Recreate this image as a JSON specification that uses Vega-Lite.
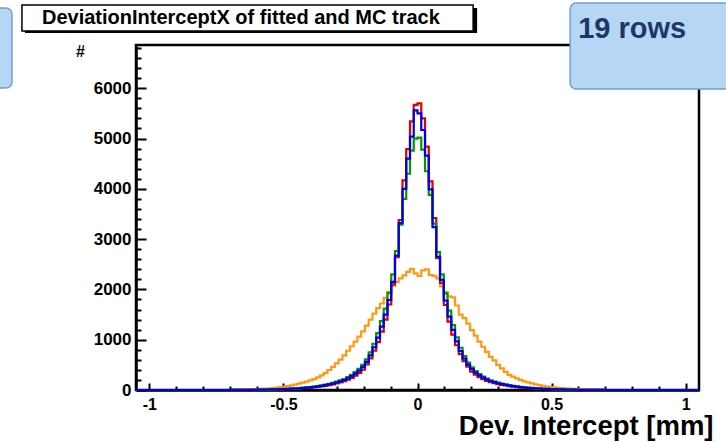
{
  "$schema": "https://vega.github.io/schema/vega-lite/v6.json",
  "width": 563,
  "height": 345,
  "autosize": {"type": "none"},
  "padding": {"left": 136, "top": 45, "right": 27, "bottom": 52},
  "background": "white",
  "config": {
    "view": {"stroke": "black", "strokeWidth": 2.5},
    "font": "Liberation Sans",
    "axisX": {
      "labelFont": "Liberation Sans", "labelFontSize": 16, "labelFontWeight": "bold", "labelColor": "black",
      "labelPadding": 13, "labelFlush": false, "labelOverlap": false, "labelBound": false,
      "tickColor": "black", "tickWidth": 2, "domainColor": "black", "domainWidth": 2.5, "grid": false,
      "titleFont": "Liberation Sans", "titleFontSize": 27.5, "titleFontWeight": "bold", "titleColor": "black",
      "titleX": 577, "titleY": 44, "titleAlign": "right", "titleBaseline": "alphabetic"
    },
    "axisY": {
      "labelFont": "Liberation Sans", "labelFontSize": 17, "labelFontWeight": "bold", "labelColor": "black",
      "labelPadding": 15, "labelFlush": false, "labelOverlap": false, "labelBound": false,
      "tickColor": "black", "tickWidth": 2, "domainColor": "black", "domainWidth": 2.5, "grid": false,
      "titleFont": "Liberation Sans", "titleFontSize": 16, "titleFontWeight": "bold", "titleColor": "black",
      "titleAngle": 0, "titleX": -56, "titleY": 6, "titleAlign": "center", "titleBaseline": "middle"
    }
  },
  "data": {
    "values": [
      {"x": -1.05, "b": 0, "r": 0, "g": 0, "o": 0},
      {"x": -0.7, "b": 1, "r": 1, "g": 1, "o": 5},
      {"x": -0.686, "b": 1, "r": 1, "g": 2, "o": 6},
      {"x": -0.672, "b": 2, "r": 1, "g": 2, "o": 8},
      {"x": -0.658, "b": 2, "r": 2, "g": 3, "o": 9},
      {"x": -0.644, "b": 3, "r": 2, "g": 4, "o": 11},
      {"x": -0.63, "b": 4, "r": 3, "g": 4, "o": 13},
      {"x": -0.616, "b": 5, "r": 4, "g": 5, "o": 16},
      {"x": -0.602, "b": 6, "r": 5, "g": 7, "o": 19},
      {"x": -0.588, "b": 7, "r": 6, "g": 8, "o": 23},
      {"x": -0.574, "b": 8, "r": 7, "g": 9, "o": 28},
      {"x": -0.56, "b": 10, "r": 8, "g": 11, "o": 34},
      {"x": -0.546, "b": 12, "r": 10, "g": 13, "o": 40},
      {"x": -0.532, "b": 14, "r": 12, "g": 15, "o": 48},
      {"x": -0.518, "b": 16, "r": 14, "g": 18, "o": 58},
      {"x": -0.504, "b": 19, "r": 16, "g": 21, "o": 68},
      {"x": -0.49, "b": 22, "r": 19, "g": 24, "o": 80},
      {"x": -0.476, "b": 26, "r": 22, "g": 29, "o": 93},
      {"x": -0.462, "b": 30, "r": 26, "g": 33, "o": 108},
      {"x": -0.448, "b": 35, "r": 30, "g": 39, "o": 125},
      {"x": -0.434, "b": 41, "r": 35, "g": 45, "o": 145},
      {"x": -0.42, "b": 47, "r": 40, "g": 52, "o": 165},
      {"x": -0.406, "b": 54, "r": 46, "g": 60, "o": 190},
      {"x": -0.392, "b": 62, "r": 53, "g": 69, "o": 218},
      {"x": -0.378, "b": 72, "r": 62, "g": 80, "o": 252},
      {"x": -0.364, "b": 83, "r": 72, "g": 92, "o": 292},
      {"x": -0.35, "b": 96, "r": 84, "g": 106, "o": 340},
      {"x": -0.336, "b": 111, "r": 97, "g": 122, "o": 398},
      {"x": -0.322, "b": 128, "r": 112, "g": 141, "o": 460},
      {"x": -0.308, "b": 149, "r": 130, "g": 165, "o": 530},
      {"x": -0.294, "b": 172, "r": 150, "g": 190, "o": 605},
      {"x": -0.28, "b": 198, "r": 175, "g": 218, "o": 690},
      {"x": -0.266, "b": 232, "r": 205, "g": 255, "o": 780},
      {"x": -0.252, "b": 275, "r": 240, "g": 300, "o": 870},
      {"x": -0.238, "b": 325, "r": 285, "g": 355, "o": 960},
      {"x": -0.224, "b": 385, "r": 340, "g": 420, "o": 1060},
      {"x": -0.21, "b": 460, "r": 405, "g": 500, "o": 1165},
      {"x": -0.196, "b": 560, "r": 510, "g": 610, "o": 1280},
      {"x": -0.182, "b": 690, "r": 630, "g": 750, "o": 1400},
      {"x": -0.168, "b": 850, "r": 780, "g": 920, "o": 1520},
      {"x": -0.154, "b": 1040, "r": 950, "g": 1130, "o": 1630},
      {"x": -0.14, "b": 1260, "r": 1160, "g": 1370, "o": 1720},
      {"x": -0.126, "b": 1500, "r": 1400, "g": 1620, "o": 1830},
      {"x": -0.112, "b": 1790, "r": 1700, "g": 1930, "o": 1950},
      {"x": -0.098, "b": 2150, "r": 2100, "g": 2300, "o": 2070},
      {"x": -0.084, "b": 2670, "r": 2640, "g": 2760, "o": 2150},
      {"x": -0.07, "b": 3320, "r": 3380, "g": 3290, "o": 2220},
      {"x": -0.056, "b": 4000, "r": 4170, "g": 3800, "o": 2280},
      {"x": -0.042, "b": 4600, "r": 4790, "g": 4300, "o": 2350},
      {"x": -0.028, "b": 5040, "r": 5340, "g": 4760, "o": 2410},
      {"x": -0.014, "b": 5560, "r": 5670, "g": 5000, "o": 2320},
      {"x": 0, "b": 5500, "r": 5700, "g": 5020, "o": 2270},
      {"x": 0.014, "b": 5170, "r": 5400, "g": 4780, "o": 2380},
      {"x": 0.028, "b": 4660, "r": 4840, "g": 4350, "o": 2400},
      {"x": 0.042, "b": 3990, "r": 4150, "g": 3880, "o": 2290},
      {"x": 0.056, "b": 3240, "r": 3420, "g": 3310, "o": 2270},
      {"x": 0.07, "b": 2650, "r": 2620, "g": 2740, "o": 2220},
      {"x": 0.084, "b": 2190, "r": 2130, "g": 2300, "o": 2060},
      {"x": 0.098, "b": 1780, "r": 1690, "g": 1920, "o": 1950},
      {"x": 0.112, "b": 1460, "r": 1360, "g": 1580, "o": 1860},
      {"x": 0.126, "b": 1195, "r": 1100, "g": 1290, "o": 1840},
      {"x": 0.14, "b": 966, "r": 890, "g": 1045, "o": 1680},
      {"x": 0.154, "b": 775, "r": 715, "g": 840, "o": 1500},
      {"x": 0.168, "b": 624, "r": 575, "g": 675, "o": 1430},
      {"x": 0.182, "b": 505, "r": 465, "g": 545, "o": 1320},
      {"x": 0.196, "b": 415, "r": 365, "g": 450, "o": 1190},
      {"x": 0.21, "b": 345, "r": 305, "g": 375, "o": 1080},
      {"x": 0.224, "b": 290, "r": 255, "g": 315, "o": 960},
      {"x": 0.238, "b": 245, "r": 215, "g": 265, "o": 860},
      {"x": 0.252, "b": 208, "r": 183, "g": 225, "o": 760},
      {"x": 0.266, "b": 178, "r": 157, "g": 193, "o": 660},
      {"x": 0.28, "b": 155, "r": 136, "g": 168, "o": 590},
      {"x": 0.294, "b": 134, "r": 118, "g": 147, "o": 500},
      {"x": 0.308, "b": 116, "r": 102, "g": 128, "o": 430},
      {"x": 0.322, "b": 101, "r": 89, "g": 111, "o": 360},
      {"x": 0.336, "b": 87, "r": 76, "g": 96, "o": 300},
      {"x": 0.35, "b": 76, "r": 66, "g": 84, "o": 265},
      {"x": 0.364, "b": 66, "r": 57, "g": 73, "o": 230},
      {"x": 0.378, "b": 57, "r": 49, "g": 63, "o": 200},
      {"x": 0.392, "b": 50, "r": 43, "g": 55, "o": 170},
      {"x": 0.406, "b": 44, "r": 37, "g": 48, "o": 150},
      {"x": 0.42, "b": 38, "r": 32, "g": 42, "o": 130},
      {"x": 0.434, "b": 33, "r": 28, "g": 36, "o": 110},
      {"x": 0.448, "b": 28, "r": 24, "g": 31, "o": 95},
      {"x": 0.462, "b": 24, "r": 20, "g": 26, "o": 82},
      {"x": 0.476, "b": 21, "r": 18, "g": 23, "o": 70},
      {"x": 0.49, "b": 18, "r": 15, "g": 20, "o": 60},
      {"x": 0.504, "b": 16, "r": 13, "g": 18, "o": 52},
      {"x": 0.518, "b": 13, "r": 11, "g": 14, "o": 45},
      {"x": 0.532, "b": 11, "r": 9, "g": 12, "o": 38},
      {"x": 0.546, "b": 9, "r": 8, "g": 10, "o": 32},
      {"x": 0.56, "b": 8, "r": 7, "g": 9, "o": 27},
      {"x": 0.574, "b": 7, "r": 6, "g": 8, "o": 22},
      {"x": 0.588, "b": 5, "r": 4, "g": 6, "o": 18},
      {"x": 0.602, "b": 4, "r": 3, "g": 5, "o": 15},
      {"x": 0.616, "b": 4, "r": 3, "g": 4, "o": 12},
      {"x": 0.63, "b": 3, "r": 2, "g": 3, "o": 10},
      {"x": 0.644, "b": 2, "r": 2, "g": 2, "o": 8},
      {"x": 0.658, "b": 2, "r": 1, "g": 2, "o": 6},
      {"x": 0.672, "b": 1, "r": 1, "g": 1, "o": 5},
      {"x": 0.686, "b": 1, "r": 1, "g": 1, "o": 4},
      {"x": 0.7, "b": 0, "r": 0, "g": 0, "o": 0},
      {"x": 1.05, "b": 0, "r": 0, "g": 0, "o": 0}
    ]
  },
  "layer": [
    {
      "transform": [{"fold": ["o", "r", "g", "b"], "as": ["s", "n"]}],
      "mark": {"type": "line", "interpolate": "step-after", "strokeWidth": 2.2},
      "encoding": {
        "x": {
          "field": "x", "type": "quantitative",
          "scale": {"domain": [-1.05, 1.05], "nice": false, "zero": false},
          "axis": {
            "title": "Dev. Intercept [mm]",
            "values": [-1, -0.9, -0.8, -0.7, -0.6, -0.5, -0.4, -0.3, -0.2, -0.1, 0, 0.1, 0.2, 0.3, 0.4, 0.5, 0.6, 0.7, 0.8, 0.9, 1],
            "labelExpr": "abs(datum.value * 2 - round(datum.value * 2)) < 0.001 ? toString(datum.value) : ''",
            "tickSize": {"condition": {"test": "abs(datum.value * 2 - round(datum.value * 2)) < 0.001", "value": -7}, "value": -4}
          }
        },
        "y": {
          "field": "n", "type": "quantitative",
          "scale": {"domain": [0, 6860], "nice": false},
          "axis": {
            "title": "#",
            "values": [0, 200, 400, 600, 800, 1000, 1200, 1400, 1600, 1800, 2000, 2200, 2400, 2600, 2800, 3000, 3200, 3400, 3600, 3800, 4000, 4200, 4400, 4600, 4800, 5000, 5200, 5400, 5600, 5800, 6000, 6200, 6400, 6600, 6800],
            "labelExpr": "datum.value % 1000 === 0 ? toString(datum.value) : ''",
            "tickSize": {"condition": {"test": "datum.value % 1000 === 0", "value": -10}, "value": -5}
          }
        },
        "color": {
          "field": "s", "type": "nominal",
          "scale": {"domain": ["o", "r", "g", "b"], "range": ["#ff9a10", "#dd0000", "#009a00", "#0000e8"]},
          "legend": null
        }
      }
    },
    {
      "transform": [{"filter": "datum.x === 1.05"}],
      "mark": {"type": "rect", "color": "black", "clip": false},
      "encoding": {
        "x": {"datum": -1.4642, "type": "quantitative", "axis": {"title": "Dev. Intercept [mm]", "values": [-1, -0.9, -0.8, -0.7, -0.6, -0.5, -0.4, -0.3, -0.2, -0.1, 0, 0.1, 0.2, 0.3, 0.4, 0.5, 0.6, 0.7, 0.8, 0.9, 1], "labelExpr": "abs(datum.value * 2 - round(datum.value * 2)) < 0.001 ? toString(datum.value) : ''", "tickSize": {"condition": {"test": "abs(datum.value * 2 - round(datum.value * 2)) < 0.001", "value": -7}, "value": -4}}},
        "x2": {"datum": 0.2224},
        "y": {"datum": 7596, "type": "quantitative", "axis": {"title": "#", "values": [0, 200, 400, 600, 800, 1000, 1200, 1400, 1600, 1800, 2000, 2200, 2400, 2600, 2800, 3000, 3200, 3400, 3600, 3800, 4000, 4200, 4400, 4600, 4800, 5000, 5200, 5400, 5600, 5800, 6000, 6200, 6400, 6600, 6800], "labelExpr": "datum.value % 1000 === 0 ? toString(datum.value) : ''", "tickSize": {"condition": {"test": "datum.value % 1000 === 0", "value": -10}, "value": -5}}},
        "y2": {"datum": 7099}
      }
    },
    {
      "transform": [{"filter": "datum.x === 1.05"}],
      "mark": {"type": "rect", "fill": "white", "stroke": "black", "strokeWidth": 1.5, "clip": false},
      "encoding": {
        "x": {"datum": -1.4754, "type": "quantitative", "axis": {"title": "Dev. Intercept [mm]", "values": [-1, -0.9, -0.8, -0.7, -0.6, -0.5, -0.4, -0.3, -0.2, -0.1, 0, 0.1, 0.2, 0.3, 0.4, 0.5, 0.6, 0.7, 0.8, 0.9, 1], "labelExpr": "abs(datum.value * 2 - round(datum.value * 2)) < 0.001 ? toString(datum.value) : ''", "tickSize": {"condition": {"test": "abs(datum.value * 2 - round(datum.value * 2)) < 0.001", "value": -7}, "value": -4}}},
        "x2": {"datum": 0.2075},
        "y": {"datum": 7655, "type": "quantitative", "axis": {"title": "#", "values": [0, 200, 400, 600, 800, 1000, 1200, 1400, 1600, 1800, 2000, 2200, 2400, 2600, 2800, 3000, 3200, 3400, 3600, 3800, 4000, 4200, 4400, 4600, 4800, 5000, 5200, 5400, 5600, 5800, 6000, 6200, 6400, 6600, 6800], "labelExpr": "datum.value % 1000 === 0 ? toString(datum.value) : ''", "tickSize": {"condition": {"test": "datum.value % 1000 === 0", "value": -10}, "value": -5}}},
        "y2": {"datum": 7138}
      }
    },
    {
      "transform": [{"filter": "datum.x === 1.05"}],
      "mark": {"type": "text", "align": "left", "baseline": "middle", "font": "Liberation Sans", "fontSize": 20, "fontWeight": "bold", "color": "black", "clip": false},
      "encoding": {
        "x": {"datum": -1.4007, "type": "quantitative", "axis": {"title": "Dev. Intercept [mm]", "values": [-1, -0.9, -0.8, -0.7, -0.6, -0.5, -0.4, -0.3, -0.2, -0.1, 0, 0.1, 0.2, 0.3, 0.4, 0.5, 0.6, 0.7, 0.8, 0.9, 1], "labelExpr": "abs(datum.value * 2 - round(datum.value * 2)) < 0.001 ? toString(datum.value) : ''", "tickSize": {"condition": {"test": "abs(datum.value * 2 - round(datum.value * 2)) < 0.001", "value": -7}, "value": -4}}},
        "y": {"datum": 7397, "type": "quantitative", "axis": {"title": "#", "values": [0, 200, 400, 600, 800, 1000, 1200, 1400, 1600, 1800, 2000, 2200, 2400, 2600, 2800, 3000, 3200, 3400, 3600, 3800, 4000, 4200, 4400, 4600, 4800, 5000, 5200, 5400, 5600, 5800, 6000, 6200, 6400, 6600, 6800], "labelExpr": "datum.value % 1000 === 0 ? toString(datum.value) : ''", "tickSize": {"condition": {"test": "datum.value % 1000 === 0", "value": -10}, "value": -5}}},
        "text": {"value": "DeviationInterceptX of fitted and MC track"}
      }
    },
    {
      "transform": [{"filter": "datum.x === 1.05"}],
      "mark": {"type": "rect", "fill": "#b6d7f3", "stroke": "#6f9fd2", "strokeWidth": 1.5, "cornerRadius": 6, "clip": false},
      "encoding": {
        "x": {"datum": 0.5694, "type": "quantitative", "axis": {"title": "Dev. Intercept [mm]", "values": [-1, -0.9, -0.8, -0.7, -0.6, -0.5, -0.4, -0.3, -0.2, -0.1, 0, 0.1, 0.2, 0.3, 0.4, 0.5, 0.6, 0.7, 0.8, 0.9, 1], "labelExpr": "abs(datum.value * 2 - round(datum.value * 2)) < 0.001 ? toString(datum.value) : ''", "tickSize": {"condition": {"test": "abs(datum.value * 2 - round(datum.value * 2)) < 0.001", "value": -7}, "value": -4}}},
        "x2": {"datum": 1.1664},
        "y": {"datum": 7695, "type": "quantitative", "axis": {"title": "#", "values": [0, 200, 400, 600, 800, 1000, 1200, 1400, 1600, 1800, 2000, 2200, 2400, 2600, 2800, 3000, 3200, 3400, 3600, 3800, 4000, 4200, 4400, 4600, 4800, 5000, 5200, 5400, 5600, 5800, 6000, 6200, 6400, 6600, 6800], "labelExpr": "datum.value % 1000 === 0 ? toString(datum.value) : ''", "tickSize": {"condition": {"test": "datum.value % 1000 === 0", "value": -10}, "value": -5}}},
        "y2": {"datum": 5985}
      }
    },
    {
      "transform": [{"filter": "datum.x === 1.05"}],
      "mark": {"type": "rect", "fill": "#b6d7f3", "stroke": "#6f9fd2", "strokeWidth": 1.5, "cornerRadius": 6, "clip": false},
      "encoding": {
        "x": {"datum": -1.5948, "type": "quantitative", "axis": {"title": "Dev. Intercept [mm]", "values": [-1, -0.9, -0.8, -0.7, -0.6, -0.5, -0.4, -0.3, -0.2, -0.1, 0, 0.1, 0.2, 0.3, 0.4, 0.5, 0.6, 0.7, 0.8, 0.9, 1], "labelExpr": "abs(datum.value * 2 - round(datum.value * 2)) < 0.001 ? toString(datum.value) : ''", "tickSize": {"condition": {"test": "abs(datum.value * 2 - round(datum.value * 2)) < 0.001", "value": -7}, "value": -4}}},
        "x2": {"datum": -1.5127},
        "y": {"datum": 7596, "type": "quantitative", "axis": {"title": "#", "values": [0, 200, 400, 600, 800, 1000, 1200, 1400, 1600, 1800, 2000, 2200, 2400, 2600, 2800, 3000, 3200, 3400, 3600, 3800, 4000, 4200, 4400, 4600, 4800, 5000, 5200, 5400, 5600, 5800, 6000, 6200, 6400, 6600, 6800], "labelExpr": "datum.value % 1000 === 0 ? toString(datum.value) : ''", "tickSize": {"condition": {"test": "datum.value % 1000 === 0", "value": -10}, "value": -5}}},
        "y2": {"datum": 6005}
      }
    },
    {
      "transform": [{"filter": "datum.x === 1.05"}],
      "mark": {"type": "text", "align": "left", "baseline": "middle", "font": "Liberation Sans", "fontSize": 29, "fontWeight": "bold", "color": "#1f3768", "clip": false},
      "encoding": {
        "x": {"datum": 0.5993, "type": "quantitative", "axis": {"title": "Dev. Intercept [mm]", "values": [-1, -0.9, -0.8, -0.7, -0.6, -0.5, -0.4, -0.3, -0.2, -0.1, 0, 0.1, 0.2, 0.3, 0.4, 0.5, 0.6, 0.7, 0.8, 0.9, 1], "labelExpr": "abs(datum.value * 2 - round(datum.value * 2)) < 0.001 ? toString(datum.value) : ''", "tickSize": {"condition": {"test": "abs(datum.value * 2 - round(datum.value * 2)) < 0.001", "value": -7}, "value": -4}}},
        "y": {"datum": 7178, "type": "quantitative", "axis": {"title": "#", "values": [0, 200, 400, 600, 800, 1000, 1200, 1400, 1600, 1800, 2000, 2200, 2400, 2600, 2800, 3000, 3200, 3400, 3600, 3800, 4000, 4200, 4400, 4600, 4800, 5000, 5200, 5400, 5600, 5800, 6000, 6200, 6400, 6600, 6800], "labelExpr": "datum.value % 1000 === 0 ? toString(datum.value) : ''", "tickSize": {"condition": {"test": "datum.value % 1000 === 0", "value": -10}, "value": -5}}},
        "text": {"value": "19 rows"}
      }
    }
  ]
}
